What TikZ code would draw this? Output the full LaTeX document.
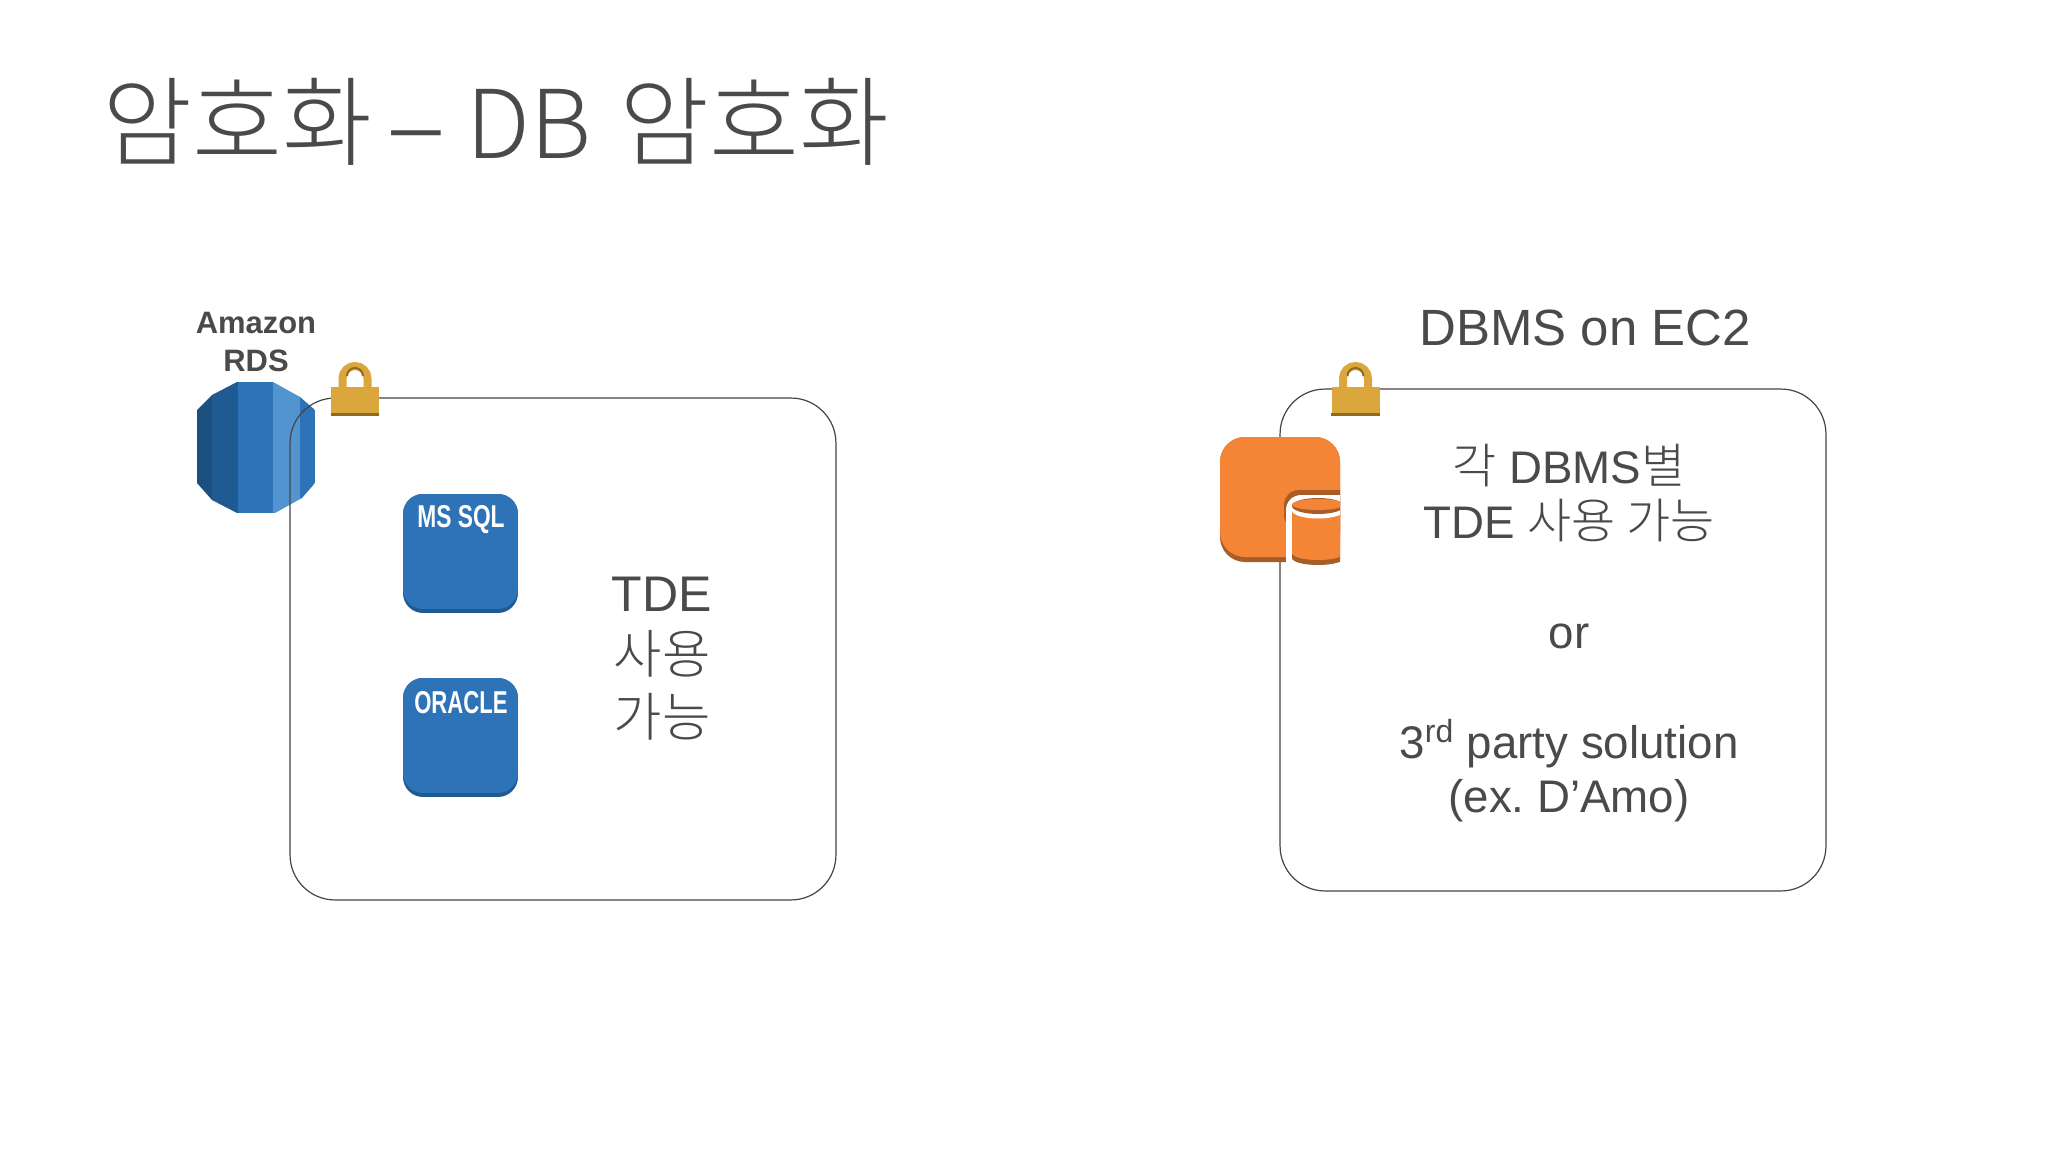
\documentclass[tikz,border=0pt]{standalone}
\usepackage{fontspec}
\setmainfont{Liberation Sans}
\newfontfamily\cjk[Scale=1.05]{Noto Sans CJK KR Light}
\newfontfamily\cjklight{Noto Sans CJK KR Light}
\usepackage{xcolor}
\usepackage{tikz}
\usetikzlibrary{positioning}

\definecolor{textgray}{HTML}{4A4A4A}
\definecolor{linegray}{HTML}{454545}
\definecolor{lockgold}{HTML}{DBA63C}
\definecolor{lockdark}{HTML}{8F6A1F}
\definecolor{dbblue}{HTML}{2E72B8}
\definecolor{dbdark}{HTML}{205A92}
\definecolor{dbdeep}{HTML}{1B4F7F}
\definecolor{dblight}{HTML}{5294CF}
\definecolor{ec2orange}{HTML}{F58536}
\definecolor{ec2dark}{HTML}{A85C28}

\begin{document}
\frenchspacing
\begin{tikzpicture}[
  x=0.02cm, y=-0.02cm,
  box/.style={rectangle, draw=linegray, line width=0.024cm, rounded corners=0.9cm, minimum width=10.92cm, minimum height=10.04cm},
  lockbody/.style={rectangle, fill=lockgold, minimum width=0.96cm, minimum height=0.58cm, inner sep=0pt},
  shackle/.style={draw=lockgold, line width=0.16cm},
  shackleshade/.style={draw=lockdark, line width=0.04cm},
  dbshade/.style={rectangle, fill=dbdark, rounded corners=0.4cm, minimum width=2.3cm, minimum height=2.38cm, inner sep=0pt},
  dbicon/.style={rectangle, fill=dbblue, rounded corners=0.4cm, minimum width=2.3cm, minimum height=2.3cm, inner sep=0pt},
  dbname/.style={text=white, font=\fontsize{18}{20}\selectfont\bfseries},
  label/.style={text=textgray, align=center}
]
  \useasboundingbox (0,0) rectangle (2048,1152);
  \fill[white] (0,0) rectangle (2048,1152);

  % Title
  \node[label, anchor=west, inner sep=0pt, font=\fontsize{53}{60}\selectfont] (title) at (102,122) {{\cjk 암호화}\hspace{0.15em}{\cjklight\fontsize{64}{60}\selectfont\raisebox{-0.05em}{–}}{\cjklight\fontsize{54}{60}\selectfont\ DB}\hspace{0.3em}{\cjk 암호화}};

  % RDS icon
  \begin{scope}
    \clip (237,382) -- (273,382) -- (300,397) -- (315,410) -- (315,483) -- (302,498) -- (275,513) -- (237,513) -- (212,500) -- (197,483) -- (197,410) -- (212,395) -- cycle;
    \fill[dbdeep] (197,382) rectangle (212,513);
    \fill[dbdark] (212,382) rectangle (238,513);
    \fill[dbblue] (238,382) rectangle (273,513);
    \fill[dblight] (273,382) rectangle (300,513);
    \fill[dbblue] (300,382) rectangle (315,513);
  \end{scope}
  \node[label, font=\fontsize{17.6}{21.5}\selectfont\bfseries] (rdslabel) at (256,342) {Amazon\\RDS};

  % RDS box
  \node[box] (box0) at (563,649) {};
  \node[dbshade] (mssqlshade) at (460.5,553.5) {};
  \node[dbicon] (mssql) at (460.5,551.5) {};
  \node[dbname] (mssqlname) at (461,520) {\scalebox{0.72}[1]{MS SQL}};
  \node[dbshade] (oracleshade) at (460.5,737.5) {};
  \node[dbicon] (oracle) at (460.5,735.5) {};
  \node[dbname] (oraclename) at (461,703) {\scalebox{0.7}[1]{ORACLE}};
  \node[label, font=\fontsize{28.5}{35.6}\selectfont] (tde) at (662,658.5) {TDE\\{\cjk 사용}\\{\cjk 가능}};

  % Lock on RDS box
  \node[lockbody] (lock0) at (355,401.5) {};
  \draw[shackle] (342.5,387) -- (342.5,378.5) arc (180:360:12.5) -- (367.5,387);
  \draw[shackleshade] (347,376) arc (180:360:8);
  \fill[lockdark] (lock0.south west) rectangle ([yshift=0.06cm]lock0.south east);

  % EC2 box
  \node[box] (box1) at (1553,640) {};
  \node[label, font=\fontsize{29}{34}\selectfont] (ec2label) at (1585,328) {DBMS on EC2};
  \node[label, font=\fontsize{26}{31.2}\selectfont] (ec2text) at (1569,633.5) {{\cjk 각} DBMS{\cjk 별}\\TDE {\cjk 사용 가능}\\ \\or\\ \\3\textsuperscript{rd} party solution\\(ex. D’Amo)};

  % EC2 icon
  \begin{scope}
    \clip (1215,430) rectangle (1340,570);
    \fill[ec2dark, rounded corners=0.5cm] (1220,437) rectangle (1340,562);
    \fill[ec2orange, rounded corners=0.5cm] (1220,437) rectangle (1340,557);
    \fill[ec2dark, rounded corners=0.3cm] (1284,490) rectangle (1360,530);
    \fill[white, rounded corners=0.3cm] (1286,495) rectangle (1360,530);
    \fill[white] (1286,510) rectangle (1360,570);
    \fill[ec2dark] (1292,511) -- (1292,558) arc (180:0:26 and 7) -- (1344,511) -- cycle;
    \fill[ec2orange] (1292,511) -- (1292,553) arc (180:0:26 and 7) -- (1344,511) -- cycle;
    \fill[white] (1318,510.5) ellipse (26 and 8);
    \fill[ec2dark] (1318,506) ellipse (26 and 8);
    \fill[ec2orange] (1318,504.5) ellipse (26 and 5.5);
  \end{scope}

  % Lock on EC2 box
  \node[lockbody] (lock1) at (1355.5,401.5) {};
  \draw[shackle] (1343,387) -- (1343,378.5) arc (180:360:12.5) -- (1368,387);
  \draw[shackleshade] (1347.5,376) arc (180:360:8);
  \fill[lockdark] (lock1.south west) rectangle ([yshift=0.06cm]lock1.south east);
\end{tikzpicture}
\end{document}
